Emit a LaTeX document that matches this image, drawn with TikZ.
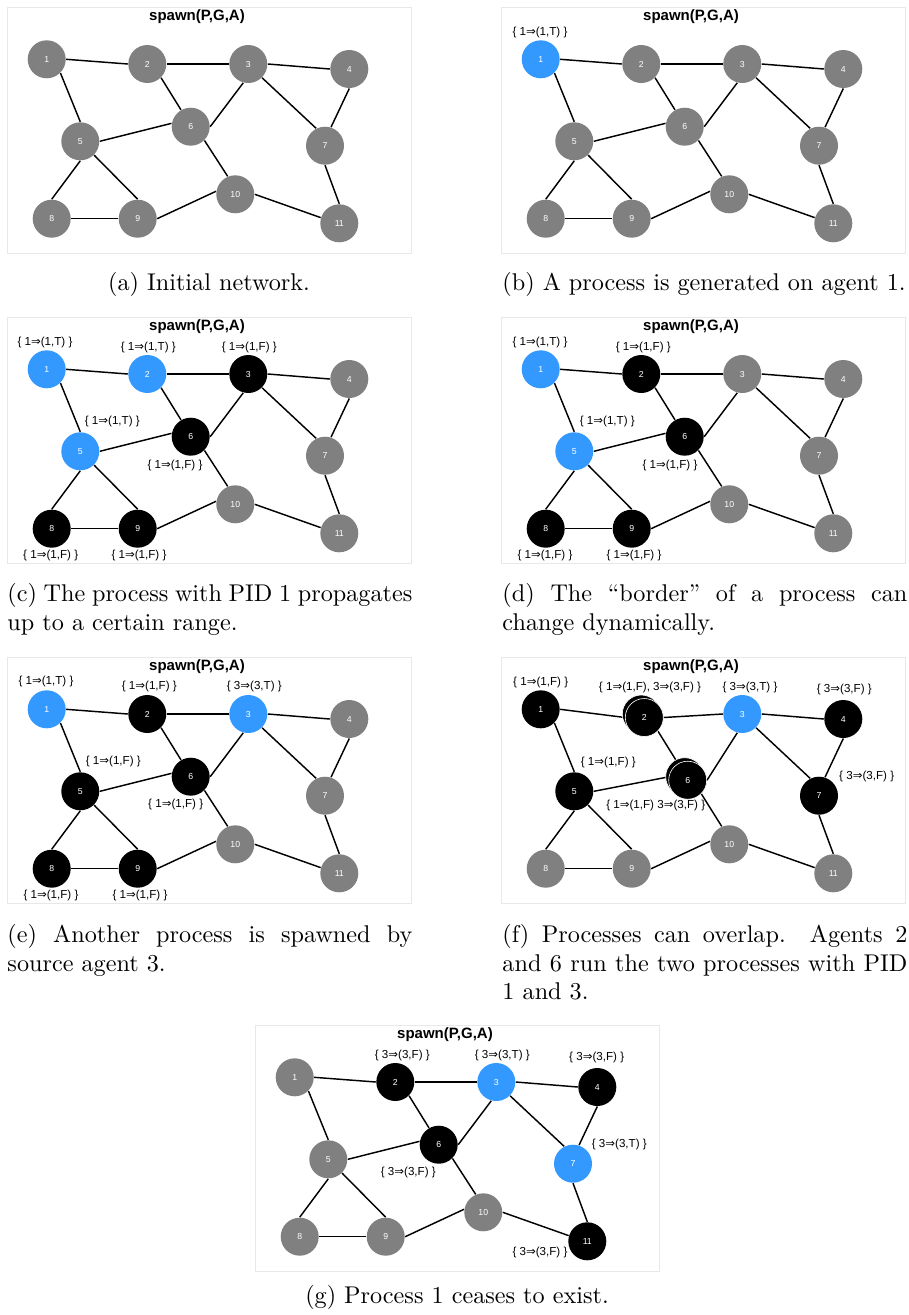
\documentclass[tikz,border=0pt]{standalone}
\usepackage{fontspec}
\newfontfamily\lib{Liberation Sans}
\newfontfamily\dv{DejaVu Sans}
\pgfdeclarelayer{canvas}
\pgfdeclarelayer{edges}
\pgfdeclarelayer{back}
\pgfsetlayers{canvas,edges,back,main}
\definecolor{ng}{HTML}{808080}
\definecolor{nb}{HTML}{3399FF}
\definecolor{frm}{HTML}{E8E8E8}
\newcommand\ra{{\dv ⇒}}
\tikzset{
  nd/.style={circle, minimum size=15.7pt, inner sep=0pt, text=white, font=\lib\fontsize{3.6}{4}\selectfont},
  gn/.style={nd, fill=ng},
  bn/.style={nd, fill=nb},
  kn/.style={nd, fill=black},
  kd/.style={kn, draw=white, line width=0.25pt, xshift=1.24pt, yshift=-1.45pt},
  kb/.style={kn, draw=white, line width=0.25pt},
  lbl/.style={font=\lib\fontsize{4.8}{5.5}\selectfont, inner sep=0pt},
  ttl/.style={font=\lib\bfseries\fontsize{6.2}{7}\selectfont, inner sep=0pt},
  lnk/.style={line width=0.6pt},
  pframe/.style={draw=frm, line width=0.4pt},
  captc/.style={inner sep=0pt, anchor=base, font=\normalsize},
  captl/.style={captc, anchor=base west}
}
\newcommand\panel[4]{%
\begin{scope}[shift={(#2,#3)}]
  \draw[pframe] (7,7) rectangle (411,253);
  \node[ttl] (#1t) at (197,17) {spawn(P,G,A)};
  \foreach \s [count=\i] in {#4} {
    \pgfmathsetmacro\nx{{46.7,147.3,248.3,349.3,80.3,190.7,325,51.7,137.7,235.3,339.3}[\i-1]}
    \pgfmathsetmacro\ny{{59.3,64,64,69,141.3,126.7,145.7,218.7,218.7,194.3,223.3}[\i-1]}
    \node[\s] (#1\i) at (\nx,\ny) {\i};
  }
  \begin{pgfonlayer}{edges}
    \foreach \a/\p/\b/\q in {1/0/2/180, 2/0/3/180, 3/0/4/180, 1/-45/5/90,
        2/-45/6/120, 3/-105/6/0, 3/-45/7/117, 4/-90/7/72, 5/0/6/170,
        5/-90/8/90, 5/-45/9/90, 8/0/9/180, 6/-45/10/113, 9/0/10/171,
        10/0/11/163, 7/-90/11/90}
      \draw[lnk] (#1\a.\p) -- (#1\b.\q);
  \end{pgfonlayer}
\end{scope}}
\begin{document}
\begin{tikzpicture}[x=0.4132pt,y=-0.4132pt]
\useasboundingbox (0,0) rectangle (909,1315);
\begin{pgfonlayer}{canvas}
\fill[white] (0,0) rectangle (909,1315);
\end{pgfonlayer}

% (a)
\panel{a}{0}{0}{gn,gn,gn,gn,gn,gn,gn,gn,gn,gn,gn}
\node[captc] (capa) at (209,290.7) {(a) Initial network.};

% (b)
\panel{b}{494}{0}{bn,gn,gn,gn,gn,gn,gn,gn,gn,gn,gn}
\node[lbl] (lb1) at (540,32.3) {\{ 1\ra(1,T) \}};
\node[captc] (capb) at (704,290.7) {(b) A process is generated on agent 1.};

% (c)
\panel{c}{0}{310}{bn,bn,kn,gn,bn,kn,gn,kn,kn,gn,gn}
\node[lbl] (lc1) at (45,342.3) {\{ 1\ra(1,T) \}};
\node[lbl] (lc2) at (148.3,347.3) {\{ 1\ra(1,T) \}};
\node[lbl] (lc3) at (249.3,347.3) {\{ 1\ra(1,F) \}};
\node[lbl] (lc5) at (112.3,421.7) {\{ 1\ra(1,T) \}};
\node[lbl] (lc6) at (175,465) {\{ 1\ra(1,F) \}};
\node[lbl] (lc8) at (50.7,555.7) {\{ 1\ra(1,F) \}};
\node[lbl] (lc9) at (139,555.7) {\{ 1\ra(1,F) \}};
\node[captl] (capc1) at (7,601.5) {\makebox[167.3pt][s]{(c) The process with PID 1 propagates}};
\node[captl] (capc2) at (7,630) {up to a certain range.};

% (d)
\panel{d}{494}{310}{bn,kn,gn,gn,bn,kn,gn,kn,kn,gn,gn}
\node[lbl] (ld1) at (540,342.3) {\{ 1\ra(1,T) \}};
\node[lbl] (ld2) at (643.3,347.3) {\{ 1\ra(1,F) \}};
\node[lbl] (ld5) at (607.3,421.7) {\{ 1\ra(1,T) \}};
\node[lbl] (ld6) at (670,465) {\{ 1\ra(1,F) \}};
\node[lbl] (ld8) at (545,555.5) {\{ 1\ra(1,F) \}};
\node[lbl] (ld9) at (634,555.5) {\{ 1\ra(1,F) \}};
\node[captl] (capd1) at (502,601.5) {\makebox[167.3pt][s]{(d) The “border” of a process can}};
\node[captl] (capd2) at (502,630) {change dynamically.};

% (e)
\panel{e}{0}{650}{bn,kn,bn,gn,kn,kn,gn,kn,kn,gn,gn}
\node[lbl] (le1) at (46,681.7) {\{ 1\ra(1,T) \}};
\node[lbl] (le2) at (149.3,686.7) {\{ 1\ra(1,F) \}};
\node[lbl] (le3) at (254.3,686.7) {\{ 3\ra(3,T) \}};
\node[lbl] (le5) at (113.3,761.7) {\{ 1\ra(1,F) \}};
\node[lbl] (le6) at (175.7,804) {\{ 1\ra(1,F) \}};
\node[lbl] (le8) at (51,895.7) {\{ 1\ra(1,F) \}};
\node[lbl] (le9) at (140,895.7) {\{ 1\ra(1,F) \}};
\node[captl] (cape1) at (7,942) {\makebox[167.3pt][s]{(e) Another process is spawned by}};
\node[captl] (cape2) at (7,971) {source agent 3.};

% (f)
\begin{pgfonlayer}{back}
\node[kb] (f2b) at (641.3,714) {};
\node[kb] (f6b) at (684.7,776.7) {};
\end{pgfonlayer}
\panel{f}{494}{650}{kn,kd,bn,kn,kn,kd,kn,gn,gn,gn,gn}
\node[lbl] (lf1) at (540.7,682.3) {\{ 1\ra(1,F) \}};
\node[lbl] (lf2) at (650,687.3) {\{ 1\ra(1,F), 3\ra(3,F) \}};
\node[lbl] (lf3) at (750,687.3) {\{ 3\ra(3,T) \}};
\node[lbl] (lf4) at (844.3,689) {\{ 3\ra(3,F) \}};
\node[lbl] (lf5) at (608.3,762.3) {\{ 1\ra(1,F) \}};
\node[lbl] (lf6) at (655.7,805) {\{ 1\ra(1,F) 3\ra(3,F) \}};
\node[lbl] (lf7) at (866.7,776.7) {\{ 3\ra(3,F) \}};
\node[captl] (capf1) at (502,942) {\makebox[167.3pt][s]{(f) Processes can overlap. Agents 2}};
\node[captl] (capf2) at (502,971) {\makebox[167.3pt][s]{and 6 run the two processes with PID}};
\node[captl] (capf3) at (502,999) {1 and 3.};

% (g)
\panel{g}{248}{1018}{gn,kn,bn,kn,gn,kn,bn,gn,gn,gn,kn}
\node[lbl] (lg2) at (402.3,1055) {\{ 3\ra(3,F) \}};
\node[lbl] (lg3) at (502.3,1055) {\{ 3\ra(3,T) \}};
\node[lbl] (lg4) at (596.7,1057.7) {\{ 3\ra(3,F) \}};
\node[lbl] (lg6) at (408.3,1172.7) {\{ 3\ra(3,F) \}};
\node[lbl] (lg7) at (619.3,1144.3) {\{ 3\ra(3,T) \}};
\node[lbl] (lg11) at (540,1252.3) {\{ 3\ra(3,F) \}};
\node[captc] (capg) at (457,1303.3) {(g) Process 1 ceases to exist.};
\end{tikzpicture}
\end{document}
